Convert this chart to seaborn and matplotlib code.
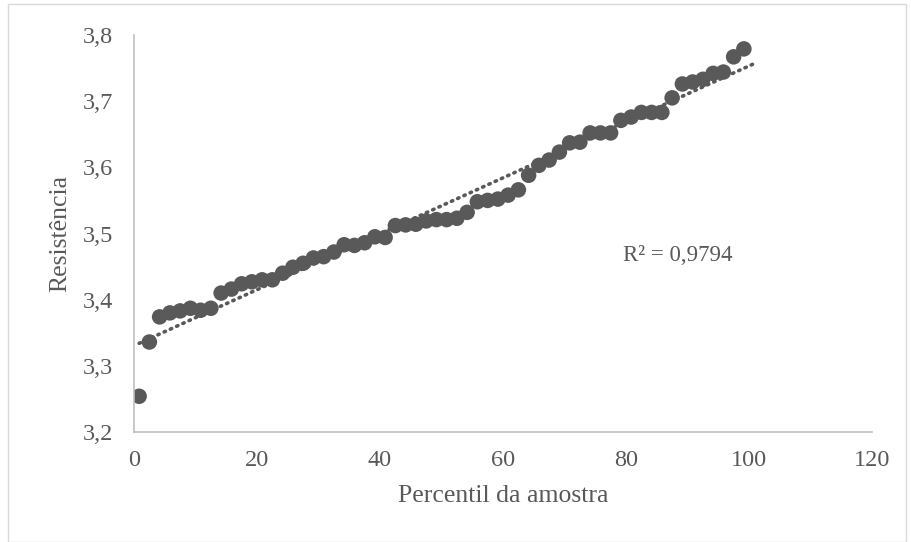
import numpy as np
import pandas as pd
import matplotlib
matplotlib.use("Agg")
import matplotlib.pyplot as plt
import seaborn as sns
from matplotlib.ticker import FuncFormatter

# Data
resistencia = [
    3.254, 3.336, 3.374, 3.380, 3.383, 3.387, 3.384, 3.387, 3.410, 3.416,
    3.424, 3.427, 3.430, 3.430, 3.440, 3.449, 3.455, 3.463, 3.465, 3.472,
    3.483, 3.482, 3.486, 3.495, 3.494, 3.512, 3.513, 3.514, 3.519, 3.521,
    3.521, 3.523, 3.532, 3.548, 3.550, 3.552, 3.558, 3.566, 3.588, 3.603,
    3.611, 3.623, 3.637, 3.638, 3.652, 3.652, 3.652, 3.671, 3.676, 3.683,
    3.683, 3.683, 3.705, 3.726, 3.729, 3.733, 3.742, 3.744, 3.767, 3.779,
]
n = len(resistencia)
percentil = [(i - 0.5) / n * 100 for i in range(1, n + 1)]
r2_label = "R² = 0,9794"
x_ticks = [0, 20, 40, 60, 80, 100, 120]
y_ticks = [3.2, 3.3, 3.4, 3.5, 3.6, 3.7, 3.8]

df = pd.DataFrame({"Percentil": percentil, "Resistencia": resistencia})

sns.set_theme(style="white")
plt.rcParams["font.family"] = ["Liberation Serif", "DejaVu Serif"]

fig = plt.figure(figsize=(9.12, 5.42), dpi=100)
ax = fig.add_axes([134 / 912, 110 / 542, 738 / 912, 397 / 542])

dark = "#595959"

# Trend line
slope, intercept = np.polyfit(percentil, resistencia, 1)
x_fit = np.array([min(percentil), max(percentil) + 2.1])
trend = pd.DataFrame({"x": x_fit, "y": intercept + slope * x_fit})
sns.lineplot(data=trend, x="x", y="y", ax=ax, color=dark, lw=2.6,
             linestyle=(0, (0.4, 1.5)), dash_capstyle="round", zorder=3)

sns.scatterplot(data=df, x="Percentil", y="Resistencia", ax=ax, color=dark,
                s=125, edgecolor="none", zorder=2)

ax.set_xlim(0, 120)
ax.set_ylim(3.2, 3.8)
ax.set_xticks(x_ticks)
ax.set_yticks(y_ticks)
ax.yaxis.set_major_formatter(FuncFormatter(lambda v, p: f"{v:.1f}".replace(".", ",")))
ax.tick_params(axis="both", which="both", length=0, labelsize=17.5, colors=dark)
ax.tick_params(axis="x", pad=13)
ax.tick_params(axis="y", pad=15)

for s in ["top", "right"]:
    ax.spines[s].set_visible(False)
for s in ["left", "bottom"]:
    ax.spines[s].set_color("#bfbfbf")
    ax.spines[s].set_linewidth(1.2)

ax.set_xlabel("Percentil da amostra", fontsize=18.5, color=dark, labelpad=10)
ax.set_ylabel("Resistência", fontsize=18.5, color=dark, labelpad=8)

ax.text(79.5, 3.467, r2_label, fontsize=16.5, color=dark, ha="left", va="center")

# Figure border
border = plt.Rectangle((8 / 912, 0.0), 898 / 912, 538 / 542, transform=fig.transFigure,
                       fill=False, edgecolor="#d9d9d9", lw=1)
fig.patches.append(border)

fig.savefig("out.png", dpi=100)
